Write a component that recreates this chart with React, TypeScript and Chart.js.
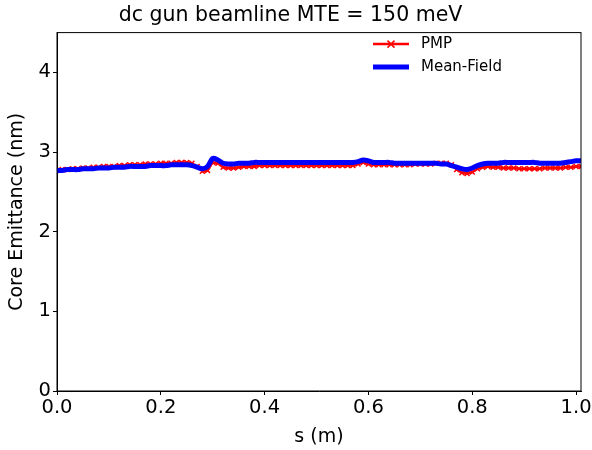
import React, { useEffect, useRef } from "react";
import { Chart, registerables } from "chart.js";

Chart.register(...registerables);

const sValues = [
  0.00, 0.01, 0.02, 0.03, 0.04, 0.05, 0.06, 0.07, 0.08, 0.09,
  0.10, 0.11, 0.12, 0.13, 0.14, 0.15, 0.16, 0.17, 0.18, 0.19,
  0.20, 0.21, 0.22, 0.23, 0.24, 0.25, 0.26, 0.27, 0.28, 0.29,
  0.30, 0.31, 0.32, 0.33, 0.34, 0.35, 0.36, 0.37, 0.38, 0.39,
  0.40, 0.41, 0.42, 0.43, 0.44, 0.45, 0.46, 0.47, 0.48, 0.49,
  0.50, 0.51, 0.52, 0.53, 0.54, 0.55, 0.56, 0.57, 0.58, 0.59,
  0.60, 0.61, 0.62, 0.63, 0.64, 0.65, 0.66, 0.67, 0.68, 0.69,
  0.70, 0.71, 0.72, 0.73, 0.74, 0.75, 0.76, 0.77, 0.78, 0.79,
  0.80, 0.81, 0.82, 0.83, 0.84, 0.85, 0.86, 0.87, 0.88, 0.89,
  0.90, 0.91, 0.92, 0.93, 0.94, 0.95, 0.96, 0.97, 0.98, 0.99,
  1.00, 1.01,
];

const pmpValues = [
  2.77, 2.78, 2.78, 2.79, 2.79, 2.80, 2.80, 2.81, 2.81, 2.82,
  2.82, 2.82, 2.83, 2.83, 2.84, 2.84, 2.84, 2.85, 2.85, 2.85,
  2.86, 2.86, 2.86, 2.87, 2.87, 2.87, 2.86, 2.82, 2.76, 2.77,
  2.87, 2.86, 2.81, 2.80, 2.80, 2.81, 2.82, 2.82, 2.82, 2.83,
  2.83, 2.83, 2.83, 2.83, 2.83, 2.83, 2.83, 2.83, 2.83, 2.83,
  2.83, 2.83, 2.83, 2.83, 2.83, 2.83, 2.83, 2.83, 2.85, 2.87,
  2.85, 2.84, 2.84, 2.84, 2.84, 2.84, 2.84, 2.84, 2.84, 2.85,
  2.85, 2.85, 2.85, 2.86, 2.86, 2.86, 2.84, 2.78, 2.74, 2.73,
  2.75, 2.79, 2.81, 2.82, 2.81, 2.81, 2.80, 2.80, 2.80, 2.79,
  2.79, 2.79, 2.79, 2.79, 2.80, 2.80, 2.80, 2.80, 2.81, 2.81,
  2.82, 2.82,
];

const meanFieldValues = [
  2.77, 2.77, 2.78, 2.78, 2.78, 2.79, 2.79, 2.79, 2.80, 2.80,
  2.80, 2.81, 2.81, 2.81, 2.82, 2.82, 2.82, 2.82, 2.83, 2.83,
  2.83, 2.83, 2.84, 2.84, 2.84, 2.84, 2.83, 2.81, 2.79, 2.82,
  2.92, 2.90, 2.86, 2.85, 2.85, 2.86, 2.86, 2.86, 2.87, 2.87,
  2.87, 2.87, 2.87, 2.87, 2.87, 2.87, 2.87, 2.87, 2.87, 2.87,
  2.87, 2.87, 2.87, 2.87, 2.87, 2.87, 2.87, 2.87, 2.88, 2.90,
  2.89, 2.87, 2.87, 2.87, 2.87, 2.86, 2.86, 2.86, 2.86, 2.86,
  2.86, 2.86, 2.86, 2.86, 2.85, 2.85, 2.83, 2.81, 2.79, 2.78,
  2.80, 2.83, 2.85, 2.86, 2.86, 2.86, 2.87, 2.87, 2.87, 2.87,
  2.87, 2.87, 2.87, 2.86, 2.86, 2.86, 2.86, 2.86, 2.87, 2.88,
  2.89, 2.89,
];

const xTicks = [0.0, 0.2, 0.4, 0.6, 0.8, 1.0];
const yTicks = [0, 1, 2, 3, 4];

const FONT = "'DejaVu Sans', sans-serif";

const frameAndLegend = {
  id: "frameAndLegend",
  afterDraw(chart: any) {
    const { ctx, chartArea } = chart;
    ctx.save();
    ctx.strokeStyle = "#000";
    ctx.lineWidth = 1;
    ctx.strokeRect(chartArea.left, chartArea.top, chartArea.right - chartArea.left, chartArea.bottom - chartArea.top);

    const x0 = chartArea.right - 208;
    const x1 = x0 + 36;
    const rows = [
      { label: "PMP", color: "#ff0000", width: 2.5, marker: true, y: chartArea.top + 11.5 },
      { label: "Mean-Field", color: "#0000ff", width: 5, marker: false, y: chartArea.top + 34.5 },
    ];
    rows.forEach((r) => {
      ctx.strokeStyle = r.color;
      ctx.lineWidth = r.width;
      ctx.beginPath();
      ctx.moveTo(x0, r.y);
      ctx.lineTo(x1, r.y);
      ctx.stroke();
      if (r.marker) {
        const cx = (x0 + x1) / 2;
        const d = 3.5;
        ctx.lineWidth = 1.5;
        ctx.beginPath();
        ctx.moveTo(cx - d, r.y - d);
        ctx.lineTo(cx + d, r.y + d);
        ctx.moveTo(cx - d, r.y + d);
        ctx.lineTo(cx + d, r.y - d);
        ctx.stroke();
      }
      ctx.fillStyle = "#000";
      ctx.font = `15px ${FONT}`;
      ctx.textBaseline = "middle";
      ctx.textAlign = "left";
      ctx.fillText(r.label, x1 + 12, r.y);
    });
    ctx.restore();
  },
};

export default function App() {
  const canvasRef = useRef<HTMLCanvasElement | null>(null);

  useEffect(() => {
    const canvas = canvasRef.current;
    if (!canvas) return;
    const chart = new Chart(canvas, {
      type: "line",
      data: {
        datasets: [
          {
            label: "PMP",
            data: sValues.map((s, i) => ({ x: s, y: pmpValues[i] })),
            borderColor: "#ff0000",
            backgroundColor: "#ff0000",
            borderWidth: 2.5,
            pointStyle: "crossRot",
            pointRadius: 3.5,
            pointBorderWidth: 1.5,
            pointBorderColor: "#ff0000",
            tension: 0,
            order: 2,
          },
          {
            label: "Mean-Field",
            data: sValues.map((s, i) => ({ x: s, y: meanFieldValues[i] })),
            borderColor: "#0000ff",
            backgroundColor: "#0000ff",
            borderWidth: 5,
            pointRadius: 0,
            tension: 0.3,
            order: 1,
          },
        ],
      },
      options: {
        animation: false,
        responsive: false,
        maintainAspectRatio: false,
        layout: { padding: { left: 0, right: 11, top: 0, bottom: 0 } },
        plugins: {
          legend: { display: false },
          tooltip: { enabled: false },
          title: {
            display: true,
            text: "dc gun beamline MTE = 150 meV",
            color: "#000",
            font: { family: FONT, size: 20.5, weight: "normal" },
            padding: { top: 3, bottom: 5 },
          },
        },
        scales: {
          x: {
            type: "linear",
            min: 0,
            max: 1.0095,
            afterBuildTicks: (scale: any) => {
              scale.ticks = xTicks.map((v) => ({ value: v }));
            },
            afterFit: (scale: any) => {
              scale.height = 59;
              scale.paddingLeft = 0;
              scale.paddingRight = 0;
            },
            ticks: {
              color: "#000",
              font: { family: FONT, size: 19.5 },
              padding: 1,
              maxRotation: 0,
              callback: (v: any) => Number(v).toFixed(1),
            },
            grid: { display: true, drawOnChartArea: false, drawTicks: true, tickLength: 4, color: "#000" },
            border: { display: true, color: "#000", width: 1 },
            title: {
              display: true,
              text: "s (m)",
              color: "#000",
              font: { family: FONT, size: 19 },
              padding: { top: 0, bottom: 2 },
            },
          },
          y: {
            type: "linear",
            min: 0,
            max: 4.5,
            afterBuildTicks: (scale: any) => {
              scale.ticks = yTicks.map((v) => ({ value: v }));
            },
            afterFit: (scale: any) => {
              scale.width = 57;
              scale.paddingTop = 0;
              scale.paddingBottom = 0;
            },
            ticks: {
              color: "#000",
              font: { family: FONT, size: 19.5 },
              padding: 2,
              callback: (v: any) => String(v),
            },
            grid: { display: true, drawOnChartArea: false, drawTicks: true, tickLength: 4, color: "#000" },
            border: { display: true, color: "#000", width: 1 },
            title: {
              display: true,
              text: "Core Emittance (nm)",
              color: "#000",
              font: { family: FONT, size: 19 },
              padding: { top: 6, bottom: 0 },
            },
          },
        },
      },
      plugins: [frameAndLegend],
    } as any);
    return () => chart.destroy();
  }, []);

  return (
    <div style={{ position: "absolute", left: 0, top: 0, width: 592, height: 450, background: "#fff" }}>
      <canvas ref={canvasRef} width={592} height={450} />
    </div>
  );
}
